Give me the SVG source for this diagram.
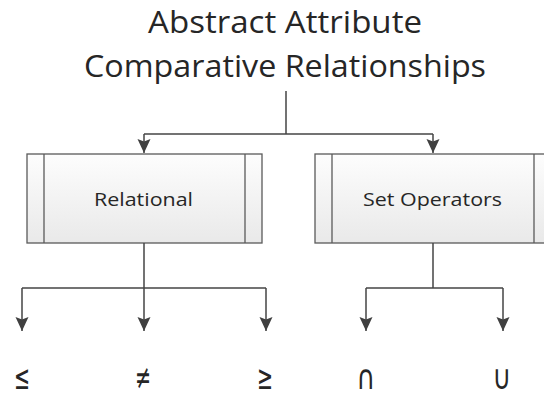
<svg xmlns="http://www.w3.org/2000/svg" width="544" height="396" viewBox="0 0 544 396">
  <style>
    .title { font-family: "Open Sans", "Liberation Sans", sans-serif; font-size: 30.5px; fill: #262626; text-anchor: middle; }
    .label { font-family: "Open Sans", "Liberation Sans", sans-serif; font-size: 19px; fill: #262626; text-anchor: middle; }
    .sym { font-family: "DejaVu Sans", "Liberation Sans", sans-serif; font-size: 34px; fill: #262626; text-anchor: middle; }
    .box { fill: url(#boxFill); stroke: #5a5a5a; stroke-width: 1.3; }
    .bar { stroke: #5a5a5a; stroke-width: 1.3; fill: none; }
    .wire { stroke: #454545; stroke-width: 1.5; fill: none; }
    .arrow { marker-end: url(#head); }
  </style>
  <defs>
    <linearGradient id="boxFill" x1="0" y1="0" x2="0" y2="1">
      <stop offset="0" stop-color="#fdfdfd"/>
      <stop offset="1" stop-color="#e9e9e9"/>
    </linearGradient>
    <marker id="head" markerUnits="userSpaceOnUse" markerWidth="16" markerHeight="16" refX="14" refY="7" orient="auto">
      <path d="M0,0.5 L14,7 L0,13.5 L2.5,7 z" fill="#404040"/>
    </marker>
  </defs>

  <!-- root title -->
  <g id="root">
    <text class="title" x="285" y="33" textLength="274" lengthAdjust="spacingAndGlyphs">Abstract Attribute</text>
    <text class="title" x="285" y="77" textLength="402" lengthAdjust="spacingAndGlyphs">Comparative Relationships</text>
  </g>

  <!-- predefined-process boxes -->
  <g id="relational">
    <rect class="box" x="27" y="154" width="235" height="89"/>
    <line class="bar" x1="44" y1="154" x2="44" y2="243"/>
    <line class="bar" x1="245" y1="154" x2="245" y2="243"/>
    <text class="label" x="143.5" y="206" textLength="99" lengthAdjust="spacingAndGlyphs">Relational</text>
  </g>
  <g id="set-operators">
    <rect class="box" x="315" y="154" width="236" height="89"/>
    <line class="bar" x1="332" y1="154" x2="332" y2="243"/>
    <line class="bar" x1="534" y1="154" x2="534" y2="243"/>
    <text class="label" x="432.5" y="206" textLength="139" lengthAdjust="spacingAndGlyphs">Set Operators</text>
  </g>

  <!-- operator leaves -->
  <g id="leq"><text class="sym" x="22" y="389" textLength="16" lengthAdjust="spacingAndGlyphs">≤</text></g>
  <g id="neq"><text class="sym" x="143" y="389" textLength="16" lengthAdjust="spacingAndGlyphs">≠</text></g>
  <g id="geq"><text class="sym" x="265" y="389" textLength="16" lengthAdjust="spacingAndGlyphs">≥</text></g>
  <g id="intersection"><text class="sym" x="366" y="389" textLength="19" lengthAdjust="spacingAndGlyphs">∩</text></g>
  <g id="union"><text class="sym" x="502" y="389" textLength="19" lengthAdjust="spacingAndGlyphs">∪</text></g>

  <!-- connectors -->
  <g id="connectors">
    <path class="wire" d="M286,91 V134 M144,134 H433"/>
    <path class="wire arrow" d="M144,134 V153"/>
    <path class="wire arrow" d="M433,134 V153"/>

    <path class="wire" d="M144,243 V288 M22,288 H266"/>
    <path class="wire arrow" d="M22,288 V331"/>
    <path class="wire arrow" d="M144,288 V331"/>
    <path class="wire arrow" d="M266,288 V331"/>

    <path class="wire" d="M433,243 V288 M366,288 H503"/>
    <path class="wire arrow" d="M366,288 V331"/>
    <path class="wire arrow" d="M503,288 V331"/>
  </g>
</svg>
